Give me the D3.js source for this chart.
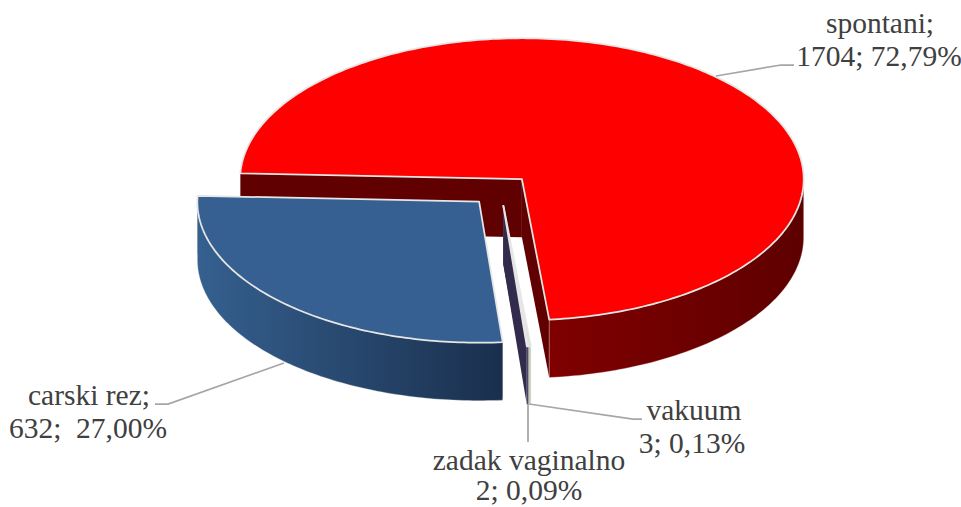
<!DOCTYPE html>
<html>
<head>
<meta charset="utf-8">
<script src="https://cdn.jsdelivr.net/npm/d3@7"></script>
<style>
  html, body { margin: 0; padding: 0; background: #fff; }
  svg { display: block; }
  text { font-family: "Liberation Serif", serif; font-size: 29.5px; fill: #404040; text-anchor: middle; }
</style>
</head>
<body>
<svg width="961" height="507"></svg>
<script>
const names = ["spontani;", "vakuum", "zadak vaginalno", "carski rez;"];
const counts = [1704, 3, 2, 632];
const percents = ["72,79%", "0,13%", "0,09%", "27,00%"];

const topColors = ["#ff0000", "#c9d4ae", "#4f3f6e", "#376092"];
const wallLight = ["#800000", "#c4cbb0", "#2f2a4d", "#35608f"];
const wallDark = ["#5e0000", "#c4cbb0", "#2f2a4d", "#1a2f4d"];
const cutColors = ["#600000", "#c4cbb0", "#332b4c", "#1a2f4d"];

const svg = d3.select("svg");
const cx = 500.6, cy = 190.5, rx = 281.8, ry = 141, depth = 58, explode = 0.11;
const toRad = Math.PI / 180;

// ellipse projection, unit circle -> screen
const x = d3.scaleLinear().domain([-1, 1]).range([cx - rx, cx + rx]);
const y = d3.scaleLinear().domain([-1, 1]).range([cy - ry, cy + ry]);
const line = d3.line().x(d => d[0]).y(d => d[1]);

const start = 272.4;
const slices = d3.pie().sort(null).startAngle(start * toRad).endAngle((start + 360) * toRad)(counts);

function arcPoints(a0, a1, off, dz) {
  const n = Math.max(2, Math.ceil((a1 - a0) / toRad));
  return d3.range(n + 1).map(i => {
    const a = a0 + (a1 - a0) * i / n;
    return [x(off[0] + Math.sin(a)), y(off[1] - Math.cos(a)) + dz];
  });
}

const defs = svg.append("defs");
const pieG = svg.append("g");

slices.forEach((s, i) => {
  const mid = (s.startAngle + s.endAngle) / 2;
  const off = [explode * Math.sin(mid), -explode * Math.cos(mid)];
  const apex = [x(off[0]), y(off[1])];
  const g = pieG.append("g");

  // cut faces
  [s.startAngle, s.endAngle].forEach(a => {
    const o = arcPoints(a, a, off, 0)[0];
    g.append("path")
      .attr("d", line([apex, o, [o[0], o[1] + depth], [apex[0], apex[1] + depth]]) + "Z")
      .attr("fill", cutColors[i]);
  });

  // outer wall, only the part that faces the viewer
  const ranges = [[90, 270], [450, 630]].map(r => [Math.max(r[0] * toRad, s.startAngle), Math.min(r[1] * toRad, s.endAngle)]).filter(r => r[1] > r[0]);
  ranges.forEach((r, j) => {
    const a = arcPoints(r[0], r[1], off, 0);
    const b = arcPoints(r[0], r[1], off, depth).reverse();
    const ext = d3.extent(a, d => d[0]);
    const id = "wall" + i + "_" + j;
    const grad = defs.append("linearGradient").attr("id", id).attr("gradientUnits", "userSpaceOnUse")
      .attr("x1", ext[0]).attr("x2", ext[1]).attr("y1", 0).attr("y2", 0);
    grad.append("stop").attr("offset", 0).attr("stop-color", wallLight[i]);
    grad.append("stop").attr("offset", 1).attr("stop-color", wallDark[i]);
    g.append("path")
      .attr("d", line(a.concat(b)) + "Z")
      .attr("fill", `url(#${id})`)
      .attr("stroke", "#eeeeee").attr("stroke-opacity", 0.45).attr("stroke-width", 0.75);
  });

  // top face
  g.append("path")
    .attr("d", line([apex].concat(arcPoints(s.startAngle, s.endAngle, off, 0))) + "Z")
    .attr("fill", topColors[i])
    .attr("stroke", "#e6e6e6").attr("stroke-width", 1.75).attr("stroke-linejoin", "round");
});

// leader lines and labels
const leaders = [
  [[716, 76], [781, 65], [794, 65]],
  [[529, 404], [633, 419], [642, 419]],
  [[528, 404], [528, 442]],
  [[284, 363], [168, 404], [155, 404]]
];
const labelPos = [[880, 33, 879, 66], [694, 420, 692, 453], [529, 470, 529, 500], [89, 405, 88, 438]];

svg.append("g").selectAll("path").data(leaders).join("path")
  .attr("d", d => line(d)).attr("fill", "none").attr("stroke", "#a6a6a6").attr("stroke-width", 1.75);

const labels = svg.append("g").selectAll("g").data(names).join("g");
labels.append("text").attr("x", (d, i) => labelPos[i][0]).attr("y", (d, i) => labelPos[i][1]).text(d => d);
labels.append("text").attr("x", (d, i) => labelPos[i][2]).attr("y", (d, i) => labelPos[i][3])
  .style("white-space", "pre")
  .text((d, i) => counts[i] + ";" + (i === 3 ? "  " : " ") + percents[i]);
</script>
</body>
</html>
